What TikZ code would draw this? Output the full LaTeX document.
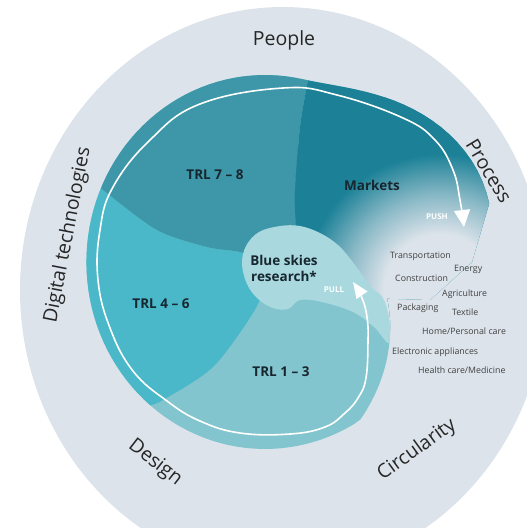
\documentclass[tikz,border=0pt]{standalone}
\usepackage{fontspec}
\setmainfont{Open Sans}
\usepackage{tikz}
\usetikzlibrary{arrows.meta}

\definecolor{ring}{HTML}{DCE3EA}
\definecolor{trlhigh}{HTML}{3D97A8}
\definecolor{mkt}{HTML}{1C8197}
\definecolor{trlmid}{HTML}{4AB8C8}
\definecolor{trllow}{HTML}{82C5CE}
\definecolor{sky}{HTML}{A9D9DF}
\definecolor{ink}{HTML}{18262F}
\pgfdeclareradialshading{mktglow}{\pgfpoint{0bp}{0bp}}{color(0bp)=(ring); color(7bp)=(ring); color(12bp)=(mkt!45!ring); color(17bp)=(mkt); color(50bp)=(mkt)}

\begin{document}
\begin{tikzpicture}[x=1pt, y=-1pt,
    declare function={
      sprad(\s) = (\s<58) ? (133+1.286*(\s-16)) :
                  ((\s<282) ? 187 : (187+55*(3*min((\s-282)/62,1)^2-2*min((\s-282)/62,1)^3)));
    },
    every node/.style={inner sep=0pt, text=ink},
    outer/.style={font=\fontsize{19.5}{20}\selectfont, text=black!85},
    stage/.style={font=\fontsize{13.5}{16}\selectfont\bfseries, align=center},
    sector/.style={font=\fontsize{8.8}{10}\selectfont, text=black!75, anchor=base west},
    flow/.style={font=\fontsize{8}{9}\selectfont\bfseries, text=white},
]
\useasboundingbox (0,0) rectangle (527,528);
\clip (0,0) rectangle (527,528);
% outer ring
\fill[ring] (283,290) ellipse [x radius=263, y radius=283];

% spiral body
\begin{scope}
\clip plot[domain=16:346, samples=120, variable=\s]
    ({265+0.955*sprad(\s)*cos(\s)}, {262+sprad(\s)*sin(\s)}) -- (472,262) -- (430,300) -- cycle;
\fill[trllow] (0,0) rectangle (527,528);
\fill[trlmid] plot[smooth] coordinates {(268,280) (253,313) (213,367) (163,400) (147,407) (120,425)}
    -- (30,430) -- (30,160)
    -- plot[smooth] coordinates {(80,172) (103,190) (157,230) (207,247) (240,252) (268,262)} -- cycle;
\fill[trlhigh] plot[smooth] coordinates {(268,262) (240,252) (207,247) (157,230) (103,190) (80,172)}
    -- (40,40) -- (312,40)
    -- plot[smooth] coordinates {(312,60) (308,80) (300,127) (295,193) (297,233) (305,255)} -- cycle;
\begin{scope}
\clip plot[smooth] coordinates {(305,255) (297,233) (295,193) (300,127) (308,80) (312,60)}
    -- (312,40) -- (527,40) -- (527,330) -- (384,330) -- (380,300) -- (360,275) -- cycle;
\fill[mkt] (290,40) rectangle (527,330);
\shade[shading=mktglow] (440,290) circle [radius=200];
\end{scope}
% blue skies blob
\fill[sky] plot[smooth cycle, tension=0.6] coordinates {(300,300) (322,302) (353,312) (374,327)
    (389,343) (389,318) (383,298) (372,288) (363,276) (352,261) (338,245) (320,233) (300,226)
    (280,226) (259,232) (246,246) (242,264) (247,284) (258,299) (273,308) (288,309)};
\end{scope}

% push / pull spiral
\coordinate (pulltip) at (353,282);
\coordinate (pushtip) at (464,227);
\draw[white, line width=1.6pt, {Triangle[width=13pt,length=16pt]}-{Triangle[width=16pt,length=17pt]}]
    plot[smooth, tension=0.7] coordinates {(pulltip) (362,298) (367,317) (368,340) (366,378)
    (358,398) (345,413) (325,427) (290,434) (240,433) (200,421) (167,401) (133,371) (110,328)
    (98,280) (100,230) (113,187) (150,140) (200,104) (283,88) (337,95) (403,118) (435,140)
    (453,170) (460,200) (pushtip)};

% ring labels
\node[outer] (people) at (284,40) {People};
\node[outer, rotate=-59] (process) at (489,171) {Process};
\node[outer, rotate=79] (digital) at (68,235) {Digital technologies};
\node[outer, rotate=-38] (design) at (155,463) {Design};
\node[outer, rotate=36] (circularity) at (417,450) {Circularity};

% stages
\node[stage] (trl78) at (215,175) {TRL 7 – 8};
\node[stage] (markets) at (372,185) {Markets};
\node[stage] (trl46) at (161,304) {TRL 4 – 6};
\node[stage] (trl13) at (281,372) {TRL 1 – 3};
\node[stage] (blueskies) at (284,268) {Blue skies\\research*};
\node[flow] (push) at (437,217) {PUSH};
\node[flow] (pull) at (334,290) {PULL};

% sectors
\node[sector] (transport) at (390,258) {Transportation};
\node[sector] (energy) at (454,271) {Energy};
\node[sector] (construction) at (395,281) {Construction};
\node[sector] (agriculture) at (442,296) {Agriculture};
\node[sector] (packaging) at (397,310) {Packaging};
\node[sector] (textile) at (452,315) {Textile};
\node[sector] (homecare) at (422,334) {Home/Personal care};
\node[sector] (electronic) at (392,354) {Electronic appliances};
\node[sector] (healthcare) at (418,373) {Health care/Medicine};
\end{tikzpicture}
\end{document}
